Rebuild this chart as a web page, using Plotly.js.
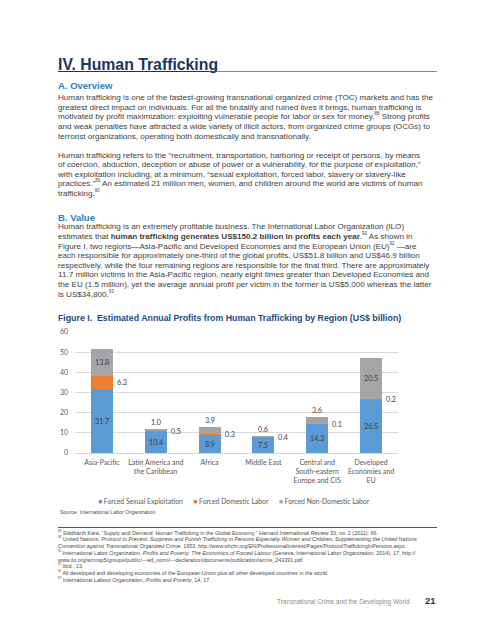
<!DOCTYPE html>
<html>
<head>
<meta charset="utf-8">
<script src="https://cdn.plot.ly/plotly-3.0.1.min.js"></script>
<style>
  html, body { margin:0; padding:0; background:#fff; width:495px; height:640px; overflow:hidden; }
  body { position:relative; font-family:"Liberation Sans", Arial, sans-serif; color:#404040; }
  .abs { position:absolute; white-space:nowrap; }
  .body { font-size:8.1px; line-height:9.65px; left:58px; }
  .body sup, .fn sup { font-size:55%; vertical-align:super; line-height:0; }
  .h1 { left:58px; top:57px; font-size:15.8px; line-height:16px; font-weight:bold; color:#1a3560; text-decoration:underline; text-decoration-thickness:1px; text-underline-offset:1px; }
  .rule { position:absolute; left:58px; width:379px; top:71px; height:0; border-top:1px solid #8a8a8a; }
  .h2 { left:58px; font-size:9.5px; line-height:10px; font-weight:bold; color:#2f7dc0; }
  .fn { left:58px; top:529.5px; font-size:5.4px; line-height:6.75px; color:#4a4a4a; }
  .sep { position:absolute; left:58px; width:379px; top:527px; border-top:0.8px solid #555; }
  .footer { left:277px; top:598px; font-size:6.4px; line-height:7px; color:#8c8c8c; }
  .pnum { left:425px; top:596px; font-size:9.5px; line-height:10px; font-weight:bold; color:#1a3560; }
  #chart { position:absolute; left:0; top:305px; width:495px; height:215px; }
</style>
</head>
<body>
<div class="rule"></div>
<div class="abs h1">IV. Human Trafficking</div>
<div class="abs h2" style="top:81px;">A. Overview</div>
<div class="abs body" style="top:93px;">
Human trafficking is one of the fastest-growing transnational organized crime (TOC) markets and has the<br>
greatest direct impact on individuals. For all the brutality and ruined lives it brings, human trafficking is<br>
motivated by profit maximization: exploiting vulnerable people for labor or sex for money.<sup>88</sup> Strong profits<br>
and weak penalties have attracted a wide variety of illicit actors, from organized crime groups (OCGs) to<br>
terrorist organizations, operating both domestically and transnationally.
</div>
<div class="abs body" style="top:150.5px;">
Human trafficking refers to the “recruitment, transportation, harboring or receipt of persons, by means<br>
of coercion, abduction, deception or abuse of power or a vulnerability, for the purpose of exploitation,”<br>
with exploitation including, at a minimum, “sexual exploitation, forced labor, slavery or slavery-like<br>
practices.”<sup>89</sup> An estimated 21 million men, women, and children around the world are victims of human<br>
trafficking.<sup>90</sup>
</div>
<div class="abs h2" style="top:212.7px;">B. Value</div>
<div class="abs body" style="top:222.2px;">
Human trafficking is an extremely profitable business. The International Labor Organization (ILO)<br>
estimates that <b>human trafficking generates US$150.2 billion in profits each year</b>.<sup>91</sup> As shown in<br>
Figure I, two regions—Asia-Pacific and Developed Economies and the European Union (EU)<sup>92</sup> —are<br>
each responsible for approximately one-third of the global profits, US$51.8 billion and US$46.9 billion<br>
respectively, while the four remaining regions are responsible for the final third. There are approximately<br>
11.7 million victims in the Asia-Pacific region, nearly eight times greater than Developed Economies and<br>
the EU (1.5 million), yet the average annual profit per victim in the former is US$5,000 whereas the latter<br>
is US$34,800.<sup>93</sup>
</div>

<div id="chart"></div>

<div class="sep"></div>
<div class="abs fn">
<sup>88</sup> Siddharth Kara, “Supply and Demand: Human Trafficking in the Global Economy,” <i>Harvard International Review</i> 33, no. 2 (2011): 66.<br>
<sup>89</sup> United Nations, <i>Protocol to Prevent, Suppress and Punish Trafficking in Persons Especially Women and Children, Supplementing the United Nations</i><br>
<i>Convention against Transnational Organized Crime</i>, 1953, http://www.ohchr.org/EN/ProfessionalInterest/Pages/ProtocolTraffickingInPersons.aspx.<br>
<sup>90</sup> International Labor Organization, <i>Profits and Poverty: The Economics of Forced Labour</i> (Geneva: International Labor Organization, 2014), 17, http://<br>
www.ilo.org/wcmsp5/groups/public/---ed_norm/---declaration/documents/publication/wcms_243391.pdf.<br>
<sup>91</sup> Ibid., 13.<br>
<sup>92</sup> All developed and developing economies of the European Union plus all other developed countries in the world.<br>
<sup>93</sup> International Labour Organization, <i>Profits and Poverty</i>, 14, 17.
</div>
<div class="abs footer">Transnational Crime and the Developing World</div>
<div class="abs pnum">21</div>

<script>
// ---- Data ----
const categories = ['Asia-Pacific', 'Latin America and the Caribbean', 'Africa', 'Middle East',
  'Central and South-eastern Europe and CIS', 'Developed Economies and EU'];
const tickLabels = ['Asia-Pacific', 'Latin America and<br>the Caribbean', 'Africa', 'Middle East',
  'Central and<br>South-eastern<br>Europe and CIS', 'Developed<br>Economies and<br>EU'];
const sexualExploitation = [31.7, 10.4, 8.9, 7.5, 14.3, 26.5];
const domesticLabor = [6.3, 0.5, 0.3, 0.4, 0.1, 0.2];
const nonDomesticLabor = [13.8, 1.0, 3.9, 0.6, 3.6, 20.5];
const seriesNames = ['Forced Sexual Exploitation', 'Forced Domestic Labor', 'Forced Non-Domestic Labor'];
const yTicks = [0, 10, 20, 30, 40, 50, 60];
const figureTitle = 'Figure I.  Estimated Annual Profits from Human Trafficking by Region (US$ billion)';
const sourceText = 'Source: International Labor Organization';

// ---- Styles ----
const colors = ['#5b9bd5', '#ed7d31', '#a5a5a5'];
const chartFont = 'Lato, "Open Sans", sans-serif';
const labelColor = '#404040';
const axisColor = '#595959';

const series = [sexualExploitation, domesticLabor, nonDomesticLabor];
const traces = series.map((vals, i) => ({
  type: 'bar', x: categories, y: vals, name: seriesNames[i],
  marker: { color: colors[i], line: { width: 0 } },
  hoverinfo: 'skip', showlegend: false
}));

const annotations = [];
const lblFont = { family: chartFont, size: 7.2, color: labelColor };
categories.forEach((c, k) => {
  const b = sexualExploitation[k], d = domesticLabor[k], n = nonDomesticLabor[k];
  annotations.push({ x: c, y: b / 2, xref: 'x', yref: 'y', text: b.toFixed(1), showarrow: false, font: lblFont });
  annotations.push({ x: c, y: b + d / 2, xref: 'x', yref: 'y', text: d.toFixed(1), showarrow: false,
    xanchor: 'left', xshift: 13, font: lblFont });
  if (n >= 10) {
    annotations.push({ x: c, y: b + d + n / 2, xref: 'x', yref: 'y', text: n.toFixed(1), showarrow: false, font: lblFont });
  } else {
    annotations.push({ x: c, y: b + d + n, xref: 'x', yref: 'y', text: n.toFixed(1), showarrow: false,
      yanchor: 'bottom', yshift: 0, font: lblFont });
  }
});

// custom legend
const legendText = seriesNames.map((nm, i) =>
  '<span style="color:' + colors[i] + '">■</span> ' + nm).join('&nbsp;&nbsp;&nbsp;&nbsp;&nbsp;&nbsp;');
annotations.push({ x: 0.492, y: -0.4, xref: 'paper', yref: 'paper', text: legendText, showarrow: false,
  xanchor: 'center', yanchor: 'middle', font: { family: chartFont, size: 6.8, color: axisColor } });
annotations.push({ x: -0.0526, y: -0.485, xref: 'paper', yref: 'paper', text: sourceText, showarrow: false,
  xanchor: 'left', yanchor: 'middle', font: { family: '"Liberation Sans", Arial, sans-serif', size: 5.3, color: '#4a4a4a' } });

const layout = {
  width: 495, height: 215,
  margin: { l: 75, r: 97, t: 27, b: 67 },
  paper_bgcolor: 'rgba(0,0,0,0)', plot_bgcolor: 'rgba(0,0,0,0)',
  barmode: 'stack', bargap: 0.59,
  title: { text: '<b>' + figureTitle + '</b>', xref: 'container', yref: 'container', x: 0.117, xanchor: 'left',
    y: 0.941, yanchor: 'middle', font: { family: '"Liberation Sans", Arial, sans-serif', size: 8.8, color: '#214a80' } },
  xaxis: { type: 'category', tickvals: categories, ticktext: tickLabels, showgrid: false, showline: false,
    ticks: '', tickfont: { family: chartFont, size: 7, color: axisColor }, ticklabelstandoff: 4, fixedrange: true },
  yaxis: { range: [0, 60], tickvals: yTicks, showgrid: true, gridcolor: '#d9d9d9', gridwidth: 1,
    zeroline: true, zerolinecolor: '#d9d9d9', zerolinewidth: 1, showline: false, ticks: '',
    tickfont: { family: chartFont, size: 7, color: axisColor }, ticklabelstandoff: 6, fixedrange: true },
  annotations: annotations,
  font: { family: chartFont }
};

Plotly.newPlot('chart', traces, layout, { staticPlot: true, displayModeBar: false });
</script>
</body>
</html>
